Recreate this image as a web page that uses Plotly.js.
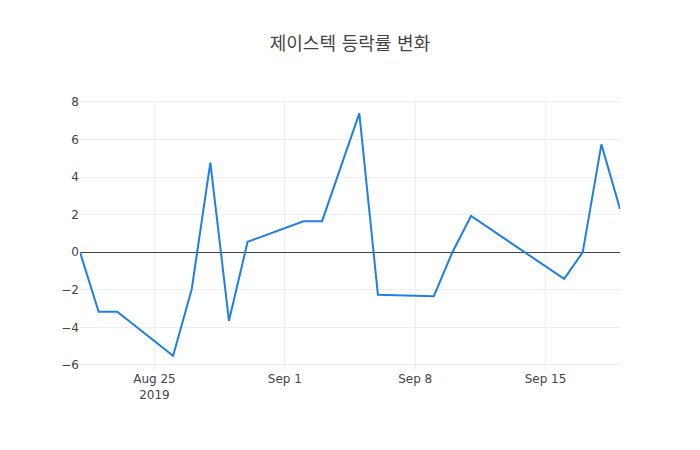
<!DOCTYPE html>
<html>
<head>
<meta charset="utf-8">
<script src="https://cdn.plot.ly/plotly-3.0.1.min.js"></script>
<style>
  body { margin: 0; }
  #chart { width: 700px; height: 450px; }
</style>
</head>
<body>
<div id="chart"></div>
<script>
// 날짜별 등락률 (%)
const dates = [
    '2019-08-21', '2019-08-22', '2019-08-23', '2019-08-26', '2019-08-27',
    '2019-08-28', '2019-08-29', '2019-08-30', '2019-09-02', '2019-09-03',
    '2019-09-05', '2019-09-06', '2019-09-09', '2019-09-10', '2019-09-11',
    '2019-09-16', '2019-09-17', '2019-09-18', '2019-09-19'
];
const changeRates = [
    0, -3.17, -3.17, -5.51, -1.97,
    4.77, -3.65, 0.55, 1.65, 1.65,
    7.39, -2.27, -2.34, 0, 1.93,
    -1.42, 0, 5.74, 2.3
];
const chartTitle = '제이스텍 등락률 변화';

document.addEventListener("DOMContentLoaded", () => {
    var trace1 = {
        x: dates,
        y: changeRates,
        type: 'scatter',
        mode: 'lines',
        line: { color: '#1f7fe5', width: 2 }
    };

    const layout = {
        title: {
            text: chartTitle,
            font: { family: '"DejaVu Sans", "Noto Sans CJK KR", sans-serif', size: 18, color: '#444' }
        },
        font: { family: '"DejaVu Sans", "Noto Sans CJK KR", sans-serif', size: 12, color: '#444' },
        xaxis: {
            type: 'date',
            range: ['2019-08-21', '2019-09-19']
        },
        yaxis: {
            range: [-6.27, 8.1],
            dtick: 2,
            zeroline: true,
            zerolinecolor: '#444'
        },
        width: 700,
        height: 450,
        margin: { t: 100, l: 80, r: 80, b: 80 },
        showlegend: false
    };

    const options = {
        displayModeBar: false,
    };

    Plotly.newPlot('chart', [trace1], layout, options);
});
</script>
</body>
</html>
